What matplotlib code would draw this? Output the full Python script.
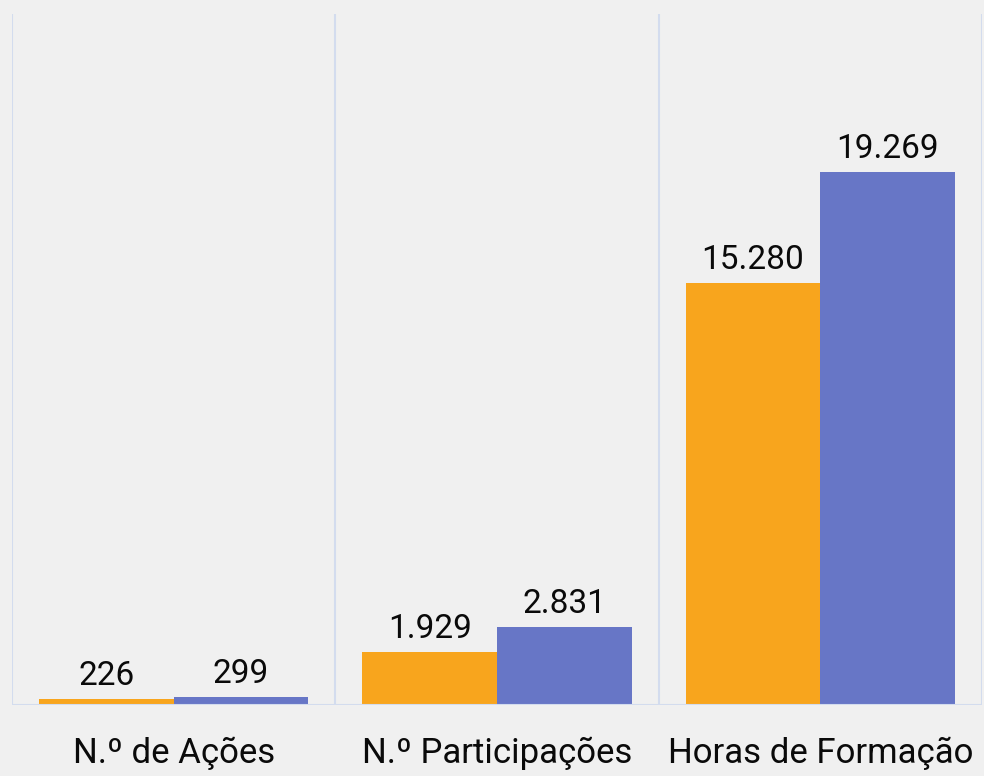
import matplotlib
matplotlib.use("Agg")
import matplotlib.pyplot as plt
import numpy as np

categories = ["N.º de Ações", "N.º Participações", "Horas de Formação"]
series_a = [226, 1929, 15280]
series_b = [299, 2831, 19269]

orange = "#F8A51D"
blue = "#6776C6"
bg = "#F0F0F0"
grid = "#D3DCEE"

plt.rcParams['font.family'] = ['Roboto', 'DejaVu Sans']

fig = plt.figure(figsize=(9.84, 7.76), dpi=100, facecolor=bg)
ax = fig.add_axes([12/984, (776-705)/776, (982-12)/984, (705-14)/776])
ax.set_facecolor(bg)

x = np.arange(len(categories))
w = 0.4165
ba = ax.bar(x - w/2, series_a, w, color=orange, zorder=2)
bb = ax.bar(x + w/2, series_b, w, color=blue, zorder=2)

def fmt(v):
    return f"{v:,}".replace(",", ".")

for bars, vals in ((ba, series_a), (bb, series_b)):
    for r, v in zip(bars, vals):
        ax.annotate(fmt(v), (r.get_x() + r.get_width()/2, r.get_height()),
                    xytext=(0, 5), textcoords="offset points",
                    ha="center", va="bottom", fontsize=24, color="#0A0A0A")

ax.set_xlim(-0.5, 2.5)
ax.set_ylim(0, 25000)
for xv in [-0.5, 0.5, 1.5, 2.5]:
    ax.axvline(xv, color=grid, lw=1.5, zorder=1)
ax.axhline(0, color=grid, lw=1.5, zorder=3)

for s in ax.spines.values():
    s.set_visible(False)
ax.set_yticks([])
ax.set_xticks(x)
ax.set_xticklabels(categories, fontsize=25, color="#0A0A0A")
ax.tick_params(axis="x", length=0, pad=23)

fig.savefig("out.png", dpi=100, facecolor=bg)
